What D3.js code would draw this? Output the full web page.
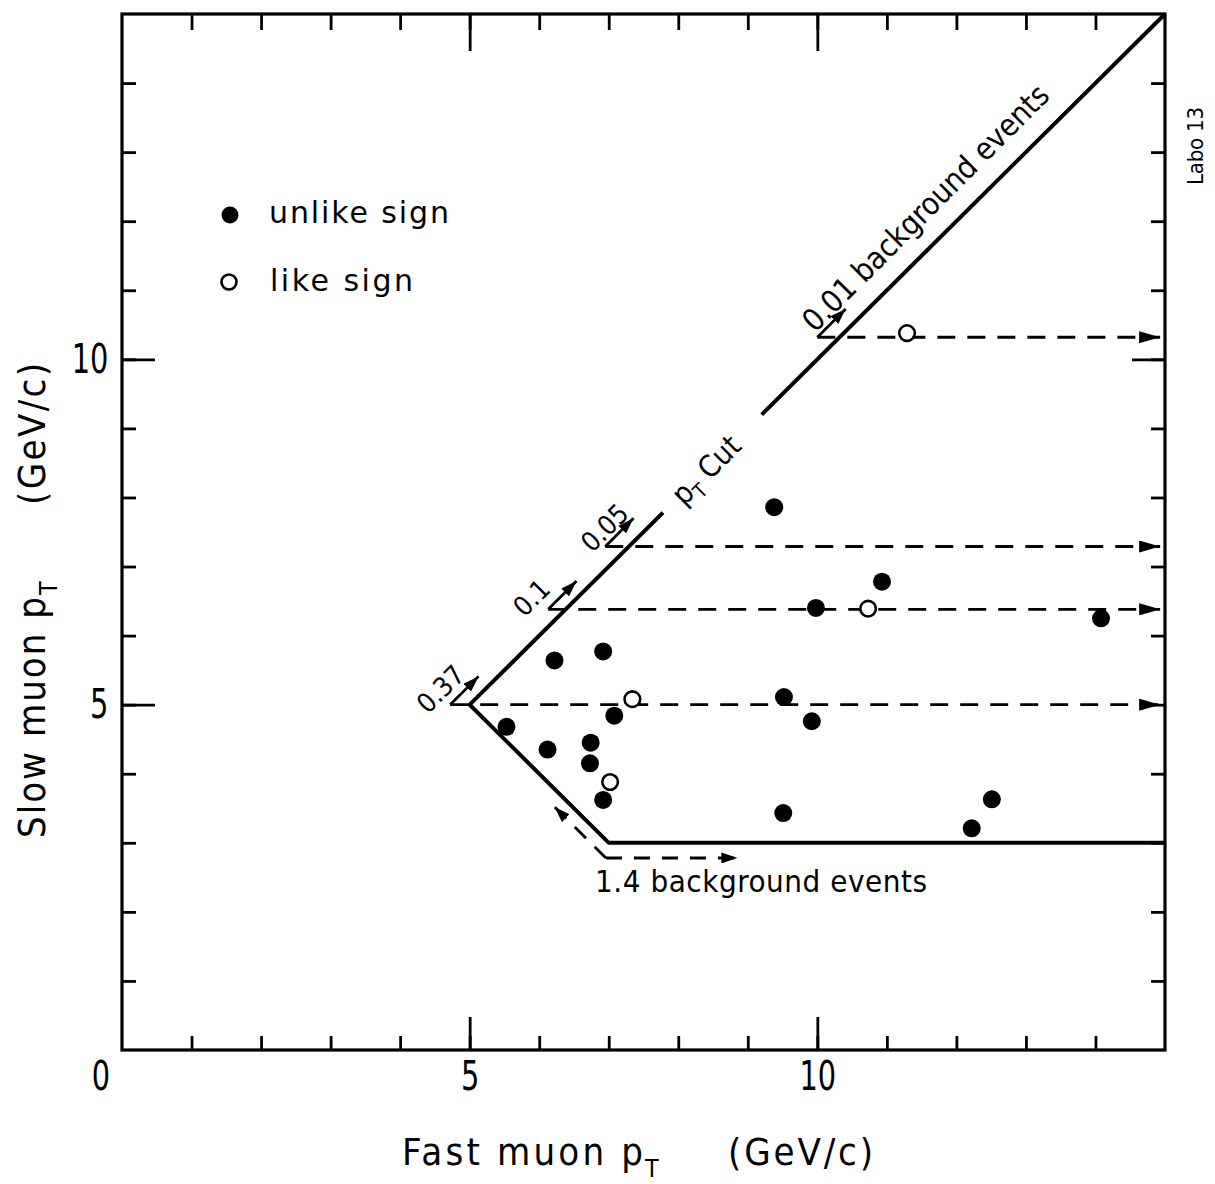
<!DOCTYPE html>
<html>
<head>
<meta charset="utf-8">
<script src="https://cdn.jsdelivr.net/npm/d3@7"></script>
<style>
  html, body { margin: 0; padding: 0; background: #fff; }
  svg { display: block; }
  text { font-family: "DejaVu Sans Condensed", "DejaVu Sans", sans-serif; font-stretch: condensed; fill: #000; }
  text.wide { font-family: "DejaVu Sans", sans-serif; font-stretch: normal; }
</style>
</head>
<body>
<svg id="chart" width="1215" height="1184"></svg>
<script>
// Dimuon events: fast muon pT vs slow muon pT (GeV/c)
const unlikeX = [5.53, 6.12, 6.22, 6.74, 6.73, 6.92, 7.08, 6.92, 9.38, 9.52, 9.92, 9.51, 9.98, 10.93, 14.08, 12.22, 12.51];
const unlikeY = [4.68, 4.35, 5.64, 4.45, 4.15, 5.77, 4.84, 3.62, 7.86, 5.11, 4.76, 3.43, 6.40, 6.78, 6.25, 3.21, 3.63];
const likeX = [7.34, 7.02, 10.73, 11.29];
const likeY = [5.08, 3.88, 6.39, 10.38];

// pT cut boundary
const cutLowerX = [15, 7, 5, 7.78];
const cutLowerY = [3, 3, 5, 7.78];
const cutUpperX = [9.2, 15];
const cutUpperY = [9.2, 15];

// background levels reached by moving the cut along the diagonal
const bgLabels = ["0.37", "0.1", "0.05", "0.01"];
const bgLevels = [5.0, 6.38, 7.29, 10.32];
const bgStartX = [4.72, 6.13, 6.95, 10.0];
const bgArrowEndX = 14.93;

// lower branch of the cut: 1.4 background events
const lowCornerX = 6.96, lowCornerY = 2.78;
const lowRightX = 8.85;
const lowDiagX = 6.22, lowDiagY = 3.52;

const topTextLabel = "0.01 background events";
const lowTextLabel = "1.4 background events";
const cutTextAt = 8.4;          // position of the "pT Cut" label along the diagonal
const topTextStart = 10.17;     // start of the 0.01 label along the diagonal

const xMinorTicks = d3.range(1, 15);
const xMajorTicks = [5, 10];
const yMinorTicks = d3.range(1, 15);
const yMajorTicks = [5, 10];

const legendLabels = ["unlike sign", "like sign"];

// ---------------------------------------------------------------
const svg = d3.select("#chart");
const pLeft = 122, pRight = 1165, pTop = 14, pBottom = 1050;
const x = d3.scaleLinear().domain([0, 15]).range([pLeft, pRight]);
const y = d3.scaleLinear().domain([0, 15]).range([pBottom, pTop]);

const defs = svg.append("defs");
function arrowMarker(id, len, wid) {
  defs.append("marker").attr("id", id)
    .attr("viewBox", `0 0 ${len} ${wid}`)
    .attr("refX", len).attr("refY", wid / 2)
    .attr("markerWidth", len).attr("markerHeight", wid)
    .attr("markerUnits", "userSpaceOnUse")
    .attr("orient", "auto")
    .append("path")
    .attr("d", `M0,0L${len},${wid / 2}L0,${wid}Z`)
    .attr("fill", "#000");
}
arrowMarker("head", 21, 12);
arrowMarker("headSmall", 16, 11);

// ticks (inward on all four sides)
function ticks(axis, tr, vals, size) {
  const g = svg.append("g").attr("transform", tr)
    .call(axis.tickValues(vals).tickSize(size).tickFormat(""));
  g.select(".domain").remove();
  g.selectAll(".tick line").attr("stroke", "#000").attr("stroke-width", 2.8);
  return g;
}
ticks(d3.axisBottom(x), `translate(0,${pBottom})`, xMinorTicks, -14);
ticks(d3.axisTop(x), `translate(0,${pTop})`, xMinorTicks, -16);
ticks(d3.axisTop(x), `translate(0,${pTop})`, xMajorTicks, -37);
ticks(d3.axisLeft(y), `translate(${pLeft},0)`, yMinorTicks, -14);
ticks(d3.axisRight(y), `translate(${pRight},0)`, yMinorTicks, -14);
ticks(d3.axisRight(y), `translate(${pRight},0)`, [10], -33);

// major ticks with labels
const digitScale = "scale(0.8,1)";
const bx = svg.append("g").attr("transform", `translate(0,${pBottom})`)
  .call(d3.axisBottom(x).tickValues(xMajorTicks).tickSizeInner(-33).tickSizeOuter(0).tickPadding(12));
bx.select(".domain").remove();
bx.selectAll(".tick line").attr("stroke", "#000").attr("stroke-width", 2.8);
bx.selectAll(".tick text").style("font-size", "40px").attr("transform", digitScale);

const ly = svg.append("g").attr("transform", `translate(${pLeft},0)`)
  .call(d3.axisLeft(y).tickValues(yMajorTicks).tickSizeInner(-33).tickSizeOuter(0).tickPadding(17));
ly.select(".domain").remove();
ly.selectAll(".tick line").attr("stroke", "#000").attr("stroke-width", 2.8);
ly.selectAll(".tick text").style("font-size", "40px").attr("transform", digitScale);

// shared origin label
svg.append("text")
  .attr("transform", `translate(${x(0) - 21},${pBottom + 12}) ${digitScale}`)
  .attr("dy", "0.71em").attr("text-anchor", "middle")
  .style("font-size", "40px").text("0");

// frame
svg.append("rect")
  .attr("x", pLeft).attr("y", pTop)
  .attr("width", pRight - pLeft).attr("height", pBottom - pTop)
  .attr("fill", "none").attr("stroke", "#000").attr("stroke-width", 3.2);

// cut boundary
const line = d3.line().x(d => x(d[0])).y(d => y(d[1]));
svg.append("path")
  .attr("d", line(cutLowerX.map((v, i) => [v, cutLowerY[i]])))
  .attr("fill", "none").attr("stroke", "#000").attr("stroke-width", 4)
  .attr("stroke-linejoin", "miter");
svg.append("path")
  .attr("d", line(cutUpperX.map((v, i) => [v, cutUpperY[i]])))
  .attr("fill", "none").attr("stroke", "#000").attr("stroke-width", 4);

// dashed lines with arrows for each background level
const dash = "18,12";
bgLevels.forEach((lev, i) => {
  svg.append("line")
    .attr("x1", x(bgStartX[i])).attr("y1", y(lev))
    .attr("x2", x(bgArrowEndX)).attr("y2", y(lev))
    .attr("stroke", "#000").attr("stroke-width", 2.8)
    .attr("stroke-dasharray", dash)
    .attr("marker-end", "url(#head)");
  const px = x(bgStartX[i]), py = y(lev), L = 40 * Math.SQRT1_2;
  svg.append("line")
    .attr("x1", px).attr("y1", py)
    .attr("x2", px + L).attr("y2", py - L)
    .attr("stroke", "#000").attr("stroke-width", 2.8)
    .attr("marker-end", "url(#headSmall)");
});

// short rotated labels next to the small arrows
const bgLabelShift = [[-3, -9], [-10, -5], [6, -12]];
bgLabels.slice(0, 3).forEach((lab, i) => {
  const px = x(bgStartX[i]) + bgLabelShift[i][0];
  const py = y(bgLevels[i]) + bgLabelShift[i][1];
  svg.append("text")
    .attr("transform", `translate(${px},${py}) rotate(-45)`)
    .attr("text-anchor", "middle")
    .style("font-size", "27px")
    .text(lab);
});

// lower branch: dashed arrows
svg.append("line")
  .attr("x1", x(lowCornerX)).attr("y1", y(lowCornerY))
  .attr("x2", x(lowRightX)).attr("y2", y(lowCornerY))
  .attr("stroke", "#000").attr("stroke-width", 2.8)
  .attr("stroke-dasharray", "16,12")
  .attr("marker-end", "url(#headSmall)");
svg.append("line")
  .attr("x1", x(lowCornerX)).attr("y1", y(lowCornerY))
  .attr("x2", x(lowDiagX)).attr("y2", y(lowDiagY))
  .attr("stroke", "#000").attr("stroke-width", 2.8)
  .attr("stroke-dasharray", "16,12")
  .attr("marker-end", "url(#headSmall)");

// data points
svg.append("g").selectAll("circle")
  .data(unlikeX.map((v, i) => [v, unlikeY[i]]))
  .join("circle")
  .attr("cx", d => x(d[0])).attr("cy", d => y(d[1]))
  .attr("r", 9).attr("fill", "#000");
svg.append("g").selectAll("circle")
  .data(likeX.map((v, i) => [v, likeY[i]]))
  .join("circle")
  .attr("cx", d => x(d[0])).attr("cy", d => y(d[1]))
  .attr("r", 7.8).attr("fill", "#fff").attr("stroke", "#000").attr("stroke-width", 2.6);

// "pT Cut" label in the gap of the diagonal
const cutLab = svg.append("text")
  .attr("transform", `translate(${x(cutTextAt)},${y(cutTextAt)}) rotate(-45)`)
  .attr("text-anchor", "middle")
  .attr("dy", "0.35em")
  .style("font-size", "30px");
cutLab.append("tspan").text("p");
cutLab.append("tspan").attr("dy", 7).style("font-size", "20px").text("T");
cutLab.append("tspan").attr("dy", -7).text(" Cut");

// 0.01 background events label along the diagonal
const off = 20 * Math.SQRT1_2;
svg.append("text")
  .attr("transform", `translate(${x(topTextStart) - off},${y(topTextStart) - off}) rotate(-45)`)
  .attr("textLength", 334).attr("lengthAdjust", "spacing")
  .style("font-size", "31px")
  .text(topTextLabel);

// 1.4 background events label
svg.append("text")
  .attr("x", 595).attr("y", 892)
  .attr("textLength", 332).attr("lengthAdjust", "spacing")
  .style("font-size", "31px")
  .text(lowTextLabel);

// legend
const legend = svg.append("g");
legend.append("circle").attr("cx", 230).attr("cy", 215).attr("r", 8.5).attr("fill", "#000");
legend.append("circle").attr("cx", 229).attr("cy", 282).attr("r", 7.5)
  .attr("fill", "#fff").attr("stroke", "#000").attr("stroke-width", 2.6);
legend.append("text").attr("class", "wide").attr("x", 269).attr("y", 223)
  .attr("textLength", 180).attr("lengthAdjust", "spacing")
  .style("font-size", "30px").text(legendLabels[0]);
legend.append("text").attr("class", "wide").attr("x", 270).attr("y", 291)
  .attr("textLength", 143).attr("lengthAdjust", "spacing")
  .style("font-size", "30px").text(legendLabels[1]);

// axis titles
svg.append("text").attr("x", 402).attr("y", 1165)
  .attr("textLength", 241).attr("lengthAdjust", "spacing")
  .style("font-size", "38px").text("Fast muon p");
svg.append("text").attr("x", 645).attr("y", 1177)
  .style("font-size", "25px").text("T");
svg.append("text").attr("x", 728).attr("y", 1165)
  .attr("textLength", 145).attr("lengthAdjust", "spacing")
  .style("font-size", "38px").text("(GeV/c)");

svg.append("text").attr("transform", "translate(45,838) rotate(-90)")
  .attr("textLength", 241).attr("lengthAdjust", "spacing")
  .style("font-size", "38px").text("Slow muon p");
svg.append("text").attr("transform", "translate(57,595) rotate(-90)")
  .style("font-size", "25px").text("T");
svg.append("text").attr("transform", "translate(45,505) rotate(-90)")
  .attr("textLength", 142).attr("lengthAdjust", "spacing")
  .style("font-size", "38px").text("(GeV/c)");

// figure tag
svg.append("text").attr("transform", "translate(1203,185) rotate(-90)")
  .attr("textLength", 78).attr("lengthAdjust", "spacing")
  .style("font-size", "22px").text("Labo 13");
</script>
</body>
</html>
